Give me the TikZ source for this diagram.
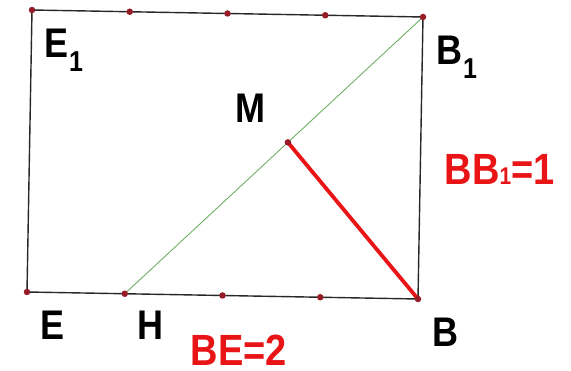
\documentclass[tikz,border=0pt]{standalone}
\usepackage{fontspec}
\usetikzlibrary{calc}
\setmainfont{Liberation Sans}
\definecolor{ptred}{RGB}{150,28,40}
\definecolor{lblred}{RGB}{232,20,22}
\definecolor{diag}{RGB}{110,175,100}
\definecolor{edge}{RGB}{40,40,40}
\newcommand{\blk}[2]{\scalebox{1}[1.15]{\fontsize{36}{36}\selectfont\bfseries #1\kern0.5pt\raisebox{-12pt}{\fontsize{25}{25}\selectfont #2}}}
\newcommand{\one}[1]{\scalebox{1}[1.15]{\fontsize{36}{36}\selectfont\bfseries #1}}
\begin{document}
\begin{tikzpicture}[x=1pt,y=-1pt,
  pt/.style={circle,fill=ptred,inner sep=0pt,minimum size=6.5pt},
  lbl/.style={anchor=base west,inner sep=0pt,text=black},
  rlbl/.style={anchor=base west,inner sep=0pt,text=lblred,font=\fontsize{38}{38}\selectfont\bfseries},
  side/.style={draw=edge,line width=1.4pt},
  ]
\useasboundingbox (0,0) rectangle (571,371);
\coordinate (E1) at (32,10);
\coordinate (B1) at (423,17);
\coordinate (B) at (418,299);
\coordinate (E) at (27,292);
\coordinate (T1) at ($(E1)!0.25!(B1)$);
\coordinate (T2) at ($(E1)!0.5!(B1)$);
\coordinate (T3) at ($(E1)!0.75!(B1)$);
\coordinate (H) at ($(E)!0.25!(B)$);
\coordinate (D2) at ($(E)!0.5!(B)$);
\coordinate (D3) at ($(E)!0.75!(B)$);
\coordinate (M) at ($(H)!0.547!(B1)$);
\draw[side] (E1) -- (B1) -- (B) -- (E) -- cycle;
\draw[diag,line width=0.9pt] (H) -- (B1);
\draw[lblred,line width=3.8pt] (M) -- (B);
\foreach \p in {E1,T1,T2,T3,B1,E,H,D2,D3,B,M} \node[pt] (n\p) at (\p) {};
\node[lbl] (lE1) at (44.5,58) {\blk{E}{1}};
\node[lbl] (lB1) at (436.5,65) {\blk{B}{1}};
\node[lbl] (lE) at (40.5,340) {\one{E}};
\node[lbl] (lH) at (137.5,340) {\one{H}};
\node[lbl] (lB) at (432.5,347) {\one{B}};
\node[lbl] (lM) at (235.5,123) {\one{M}};
\node[rlbl] (lBB) at (444.5,185) {\scalebox{1}[1.15]{BB{\fontsize{21}{21}\selectfont 1}=1}};
\node[rlbl] (lBE) at (190.5,366) {\scalebox{1}[1.15]{BE=2}};
\end{tikzpicture}
\end{document}
